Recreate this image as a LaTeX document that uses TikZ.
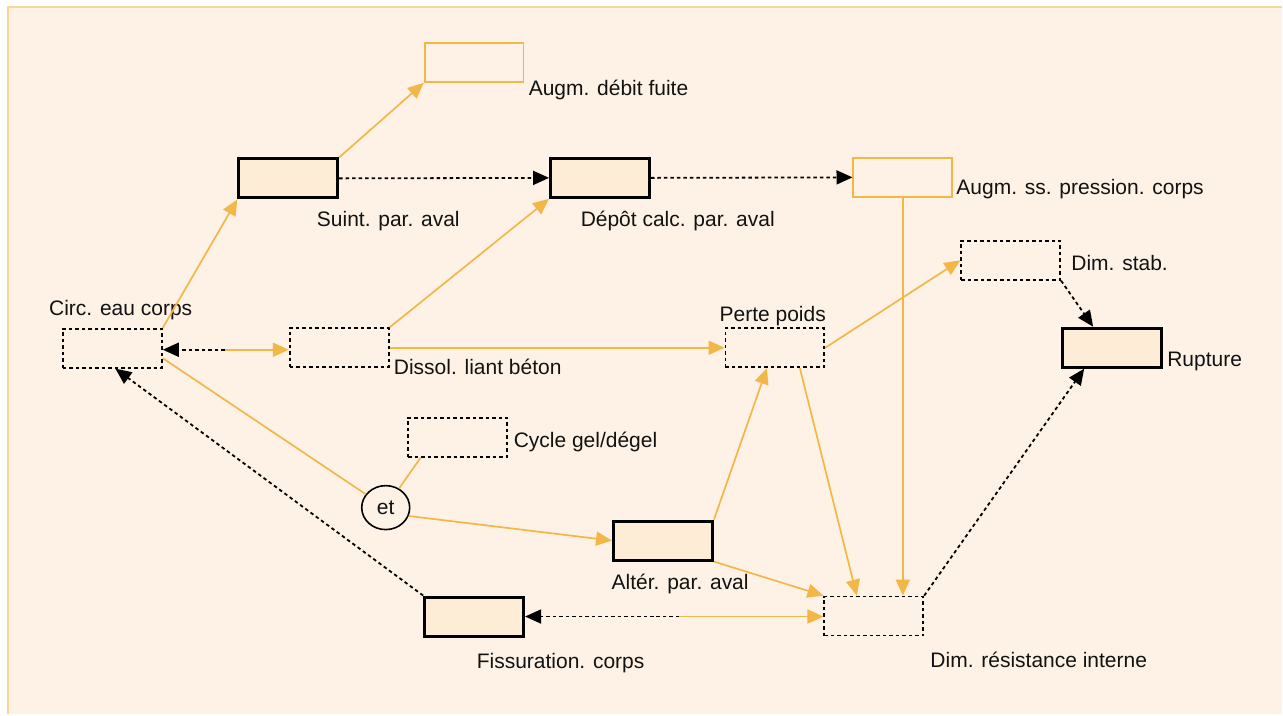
\documentclass[tikz,border=0pt]{standalone}
\usepackage{fontspec}
\setmainfont{Liberation Sans}
\usetikzlibrary{arrows.meta,shapes.geometric,calc}
\definecolor{bgc}{RGB}{254,242,230}
\definecolor{boxfill}{RGB}{253,237,214}
\definecolor{orn}{RGB}{242,183,71}
\definecolor{framec}{RGB}{248,214,150}
\begin{document}
\begin{tikzpicture}[x=1pt,y=-1pt,
 every node/.style={inner sep=0pt, font=\fontsize{21}{24}\selectfont, text=black!93},
 boxbase/.style={rectangle, minimum width=99pt, minimum height=39pt},
 solidbox/.style={boxbase, draw=black, line width=3pt, fill=boxfill},
 dotbox/.style={boxbase, draw=black, line width=1.8pt, dash pattern=on 3.5pt off 3pt},
 orbox/.style={boxbase, draw=orn, line width=1.7pt},
 lbl/.style={anchor=base west},
 oarr/.style={draw=orn, line width=1.7pt, -{Triangle[length=16pt,width=14pt]}},
 oline/.style={draw=orn, line width=1.7pt},
 darr/.style={draw=black, line width=1.8pt, dash pattern=on 3.5pt off 3pt, -{Triangle[length=16pt,width=14pt]}},
]
\fill[white] (0,0) rectangle (1283,715);
\fill[bgc] (8,7) rectangle (1283,715);
\draw[framec, line width=2pt] (8,715) -- (8,7) -- (1283,7);
\useasboundingbox (0,0) rectangle (1283,715);

% boxes
\node[orbox] (fuite) at (474.5,62.5) {};
\node[solidbox] (suint) at (288.5,178.5) {};
\node[solidbox] (depot) at (600.5,178) {};
\node[orbox] (press) at (903.5,177.5) {};
\node[dotbox] (stab) at (1011.5,260.5) {};
\node[solidbox] (rupt) at (1113,348) {};
\node[dotbox] (circ) at (112.5,348.5) {};
\node[dotbox] (dissol) at (339.5,348) {};
\node[dotbox] (perte) at (775.5,348) {};
\node[dotbox] (gel) at (458,437.5) {};
\node[ellipse, draw=black, line width=1.6pt, minimum width=48pt, minimum height=44pt, fill=bgc] (et) at (386,508) {et};
\node[solidbox] (alter) at (663.5,541) {};
\node[solidbox] (fiss) at (474.5,617) {};
\node[dotbox] (dimres) at (874.5,616.5) {};

% labels
\node[lbl] (lfuite) at (529,96) {Augm. débit fuite};
\node[lbl] (lsuint) at (317,227) {Suint. par. aval};
\node[lbl] (ldepot) at (581,227) {Dépôt calc. par. aval};
\node[lbl] (lpress) at (957,195) {Augm. ss. pression. corps};
\node[lbl] (lstab) at (1072,271) {Dim. stab.};
\node[lbl] (lrupt) at (1168,367) {Rupture};
\node[lbl] (lcirc) at (49,316) {Circ. eau corps};
\node[lbl] (ldissol) at (394,375) {Dissol. liant béton};
\node[lbl] (lperte) at (720,322) {Perte poids};
\node[lbl] (lgel) at (514,448) {Cycle gel/dégel};
\node[lbl] (lalter) at (612,590) {Altér. par. aval};
\node[lbl] (lfiss) at (477,669) {Fissuration. corps};
\node[lbl] (ldimres) at (931,668) {Dim. résistance interne};

% midpoints of double connectors
\coordinate (m1) at (225,350);
\coordinate (m2) at (680,617);

% connectors
\draw[oarr] (circ.north east) -- (suint.south west);
\draw[oarr] (suint.north east) -- (fuite.south west);
\draw[darr] (suint.east) -- (depot.west);
\draw[darr] (depot.east) -- (press.west);
\draw[oarr] (dissol.north east) -- (depot.south west);
\draw[darr] (m1) -- (circ.east |- m1);
\draw[oarr] (m1) -- (dissol.west |- m1);
\draw[oarr] (dissol.east) -- (perte.west);
\draw[oarr] (perte.east) -- (stab.west);
\draw[darr] (stab.south east) -- ([xshift=-19pt]rupt.north);
\draw[darr] (dimres.north east) -- ([xshift=-28pt]rupt.south);
\draw[oarr] (press.south) -- (press.south |- dimres.north);
\draw[oarr] ([xshift=25pt]perte.south) -- ([xshift=-17pt]dimres.north);
\draw[oarr] (alter.north east) -- ([xshift=-8pt]perte.south);
\draw[oarr] (alter.south east) -- (dimres.north west);
\draw[darr] (m2) -- (fiss.east |- m2);
\draw[oarr] (m2) -- (dimres.west |- m2);
\draw[darr] (fiss.north west) -- ([xshift=3pt]circ.south);
\draw[oline] ([yshift=-10pt]circ.east) -- (et);
\draw[oline] ([xshift=-37pt]gel.south) -- (et);
\draw[oarr] (et.-20) -- (alter.west);
\end{tikzpicture}
\end{document}
